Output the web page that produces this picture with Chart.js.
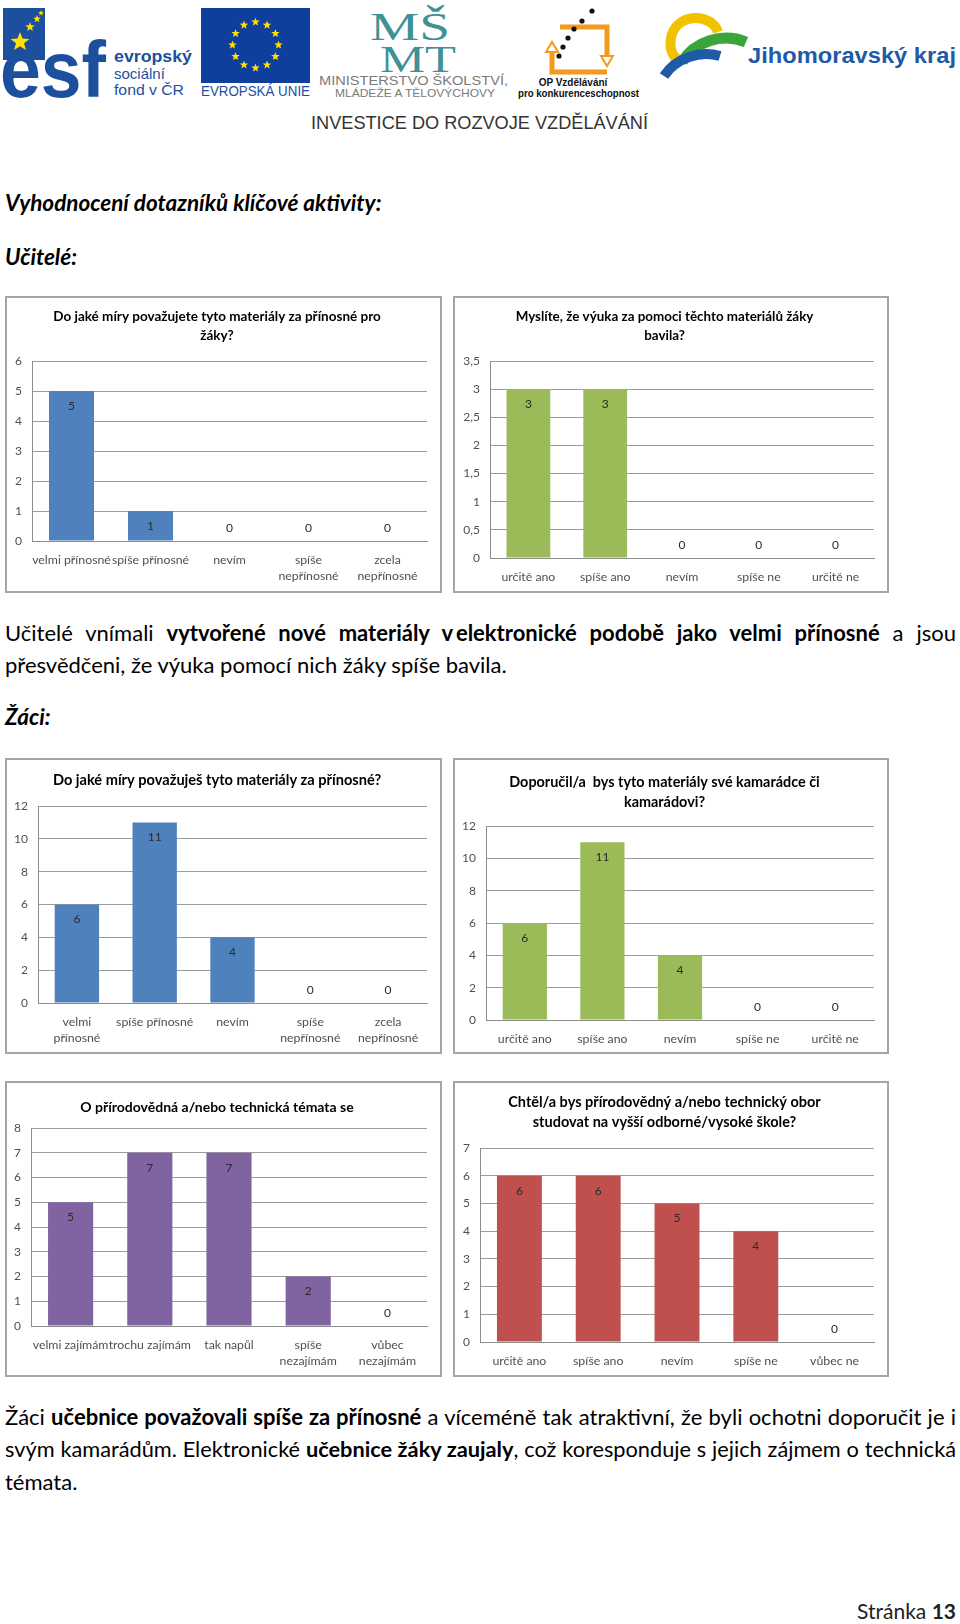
<!DOCTYPE html>
<html lang="cs">
<head>
<meta charset="utf-8">
<title>Vyhodnocení dotazníků klíčové aktivity</title>
<script src="https://cdn.jsdelivr.net/npm/chart.js@4.4.1/dist/chart.umd.min.js"></script>
<style>
  html, body { margin: 0; padding: 0; background: #fff; }
  #page { position: relative; width: 960px; height: 1624px; overflow: hidden; font-family: Lato, "Open Sans", sans-serif; color: #000; }
  .txt { position: absolute; left: 5px; white-space: nowrap; font-size: 22px; line-height: 26px; }
  .just { width: 951px; white-space: normal; text-align: justify; text-align-last: justify; }
  .head { font-weight: bold; font-style: italic; font-size: 22.5px; }
  .box { position: absolute; border: 2px solid #a5a5a5; background: #fff; }
  .box canvas { display: block; }
  #footer { position: absolute; right: 4px; top: 1598px; font-size: 21px; line-height: 26px; color: #222; }
</style>
</head>
<body>
<div id="page">
  <svg id="logos" width="960" height="140" style="position:absolute;left:0;top:0">
    <!-- esf -->
    <rect x="3" y="8" width="42" height="52" fill="#1d4f9f"/>
    <g id="esfStars" fill="#ffe100"></g>
    <text x="0" y="97" font-family="Liberation Sans" font-weight="bold" font-size="80" fill="#1d4f9f" textLength="106" lengthAdjust="spacingAndGlyphs">esf</text>
    <text x="114" y="62" font-family="Liberation Sans" font-weight="bold" font-size="16" fill="#1d4f9f" textLength="78" lengthAdjust="spacingAndGlyphs">evropský</text>
    <text x="114" y="79" font-family="Liberation Sans" font-size="15" fill="#1d4f9f">sociální</text>
    <text x="114" y="95" font-family="Liberation Sans" font-size="15" fill="#1d4f9f" textLength="70" lengthAdjust="spacingAndGlyphs">fond v ČR</text>
    <!-- EU -->
    <rect x="201" y="8" width="109" height="75" fill="#0f3f9c"/>
    <g id="euStars" fill="#ffde00"></g>
    <text x="201" y="96" font-family="Liberation Sans" font-size="14" fill="#1d4f9f" textLength="109" lengthAdjust="spacingAndGlyphs">EVROPSKÁ UNIE</text>
    <!-- MSMT -->
    <text x="370" y="40" font-family="Liberation Serif" font-size="40" fill="#3f9196" textLength="80" lengthAdjust="spacingAndGlyphs">MŠ</text>
    <text x="380" y="72" font-family="Liberation Serif" font-size="38" fill="#3f9196" textLength="76" lengthAdjust="spacingAndGlyphs">MT</text>
    <text x="319" y="85" font-family="Liberation Sans" font-size="13" fill="#7a7a7a" textLength="189" lengthAdjust="spacingAndGlyphs">MINISTERSTVO ŠKOLSTVÍ,</text>
    <text x="335" y="97" font-family="Liberation Sans" font-size="11" fill="#7a7a7a" textLength="160" lengthAdjust="spacingAndGlyphs">MLÁDEŽE A TĚLOVÝCHOVY</text>
    <!-- OP -->
    <path d="M552 48 V72 H607 M560 27 H607 V58" fill="none" stroke="#f39a1e" stroke-width="5"/>
    <path d="M546 52 L552 42 L558 52 Z M601 56 L607 66 L613 56 Z" fill="#fff" stroke="#f39a1e" stroke-width="2"/>
    <g fill="#111"><circle cx="559" cy="56" r="2.6"/><circle cx="563" cy="47" r="2.6"/><circle cx="568" cy="38" r="2.6"/><circle cx="574" cy="29" r="2.6"/><circle cx="582" cy="21" r="2.6"/><circle cx="592" cy="11" r="2.6"/></g>
    <text x="573" y="86" text-anchor="middle" font-family="Liberation Sans" font-weight="bold" font-size="10" fill="#111">OP Vzdělávání</text>
    <text x="518" y="97" font-family="Liberation Sans" font-weight="bold" font-size="10" fill="#111" textLength="121" lengthAdjust="spacingAndGlyphs">pro konkurenceschopnost</text>
    <!-- Jihomoravsky kraj -->
    <path d="M718 32 C712 14 680 12 672 34 C668 46 672 56 678 60" fill="none" stroke="#f2c200" stroke-width="10"/>
    <path d="M682 62 C694 42 722 32 746 42" fill="none" stroke="#3aa63a" stroke-width="11"/>
    <path d="M664 76 C676 58 700 50 720 56" fill="none" stroke="#1f5aa6" stroke-width="10"/>
    <text x="748" y="63" font-family="Liberation Sans" font-weight="bold" font-size="22" fill="#1f5aa6" textLength="208" lengthAdjust="spacingAndGlyphs">Jihomoravský kraj</text>
    <text x="311" y="129" font-family="Liberation Sans" font-size="19" fill="#333" textLength="337" lengthAdjust="spacingAndGlyphs">INVESTICE DO ROZVOJE VZDĚLÁVÁNÍ</text>
  </svg>

  <div class="txt head" style="top:190px">Vyhodnocení dotazníků klíčové aktivity:</div>
  <div class="txt head" style="top:244px">Učitelé:</div>

  <div class="box" id="box1"><canvas id="teacherBenefit"></canvas></div>
  <div class="box" id="box2"><canvas id="teacherFun"></canvas></div>

  <div class="txt just" style="top:620px">Učitelé vnímali <b>vytvořené nové materiály v&#8201;elektronické podobě jako velmi přínosné</b> a jsou</div>
  <div class="txt" style="top:652px">přesvědčeni, že výuka pomocí nich žáky spíše bavila.</div>
  <div class="txt head" style="top:704px">Žáci:</div>

  <div class="box" id="box3"><canvas id="pupilBenefit"></canvas></div>
  <div class="box" id="box4"><canvas id="pupilRecommend"></canvas></div>
  <div class="box" id="box5"><canvas id="pupilInterest"></canvas></div>
  <div class="box" id="box6"><canvas id="pupilStudy"></canvas></div>

  <div class="txt just" style="top:1404px">Žáci <b>učebnice považovali spíše za přínosné</b> a víceméně tak atraktivní, že byli ochotni doporučit je i</div>
  <div class="txt just" style="top:1436px">svým kamarádům. Elektronické <b>učebnice žáky zaujaly</b>, což koresponduje s jejich zájmem o technická</div>
  <div class="txt" style="top:1469px">témata.</div>

  <div id="footer">Stránka <b>13</b></div>
</div>

<script>
// --- data ---
const teacherBenefitCats = ['velmi přínosné', 'spíše přínosné', 'nevím', ['spíše', 'nepřínosné'], ['zcela', 'nepřínosné']];
const teacherBenefitValues = [5, 1, 0, 0, 0];
const teacherBenefitTicks = [0, 1, 2, 3, 4, 5, 6];

const teacherFunCats = ['určitě ano', 'spíše ano', 'nevím', 'spíše ne', 'určitě ne'];
const teacherFunValues = [3, 3, 0, 0, 0];
const teacherFunTicks = [0, 0.5, 1, 1.5, 2, 2.5, 3, 3.5];

const pupilBenefitCats = [['velmi', 'přínosné'], 'spíše přínosné', 'nevím', ['spíše', 'nepřínosné'], ['zcela', 'nepřínosné']];
const pupilBenefitValues = [6, 11, 4, 0, 0];
const pupilBenefitTicks = [0, 2, 4, 6, 8, 10, 12];

const pupilRecommendCats = ['určitě ano', 'spíše ano', 'nevím', 'spíše ne', 'určitě ne'];
const pupilRecommendValues = [6, 11, 4, 0, 0];
const pupilRecommendTicks = [0, 2, 4, 6, 8, 10, 12];

const pupilInterestCats = ['velmi zajímám', 'trochu zajímám', 'tak napůl', ['spíše', 'nezajímám'], ['vůbec', 'nezajímám']];
const pupilInterestValues = [5, 7, 7, 2, 0];
const pupilInterestTicks = [0, 1, 2, 3, 4, 5, 6, 7, 8];

const pupilStudyCats = ['určitě ano', 'spíše ano', 'nevím', 'spíše ne', 'vůbec ne'];
const pupilStudyValues = [6, 6, 5, 4, 0];
const pupilStudyTicks = [0, 1, 2, 3, 4, 5, 6, 7];

// keep justified lines on one line (shrink a little if they would wrap)
document.querySelectorAll('.just').forEach(el => {
    let size = 22;
    while (el.scrollHeight > 30 && size > 16) {
        size -= 0.25;
        el.style.fontSize = size + 'px';
    }
});

// --- logo stars ---
function starPath(cx, cy, r) {
    let d = '';
    for (let i = 0; i < 10; i++) {
        const rr = i % 2 ? r * 0.42 : r;
        const a = -Math.PI / 2 + i * Math.PI / 5;
        d += (i ? 'L' : 'M') + (cx + rr * Math.cos(a)).toFixed(1) + ' ' + (cy + rr * Math.sin(a)).toFixed(1);
    }
    return d + 'Z';
}
const svgNS = 'http://www.w3.org/2000/svg';
const eu = document.getElementById('euStars');
for (let i = 0; i < 12; i++) {
    const a = i * Math.PI / 6;
    const p = document.createElementNS(svgNS, 'path');
    p.setAttribute('d', starPath(255.5 + 23 * Math.cos(a), 45 + 23 * Math.sin(a), 4.5));
    eu.appendChild(p);
}
const esf = document.getElementById('esfStars');
[[20, 42, 10], [30, 27, 5], [37, 19, 4], [41, 13, 3]].forEach(s => {
    const p = document.createElementNS(svgNS, 'path');
    p.setAttribute('d', starPath(s[0], s[1], s[2]));
    esf.appendChild(p);
});

// --- charts ---
Chart.defaults.font.family = 'Lato';

const valueLabels = {
    id: 'valueLabels',
    afterDatasetsDraw(chart) {
        const ctx = chart.ctx;
        const values = chart.data.datasets[0].data;
        ctx.save();
        ctx.font = '12px Lato';
        ctx.fillStyle = '#2b2b2b';
        ctx.textAlign = 'center';
        ctx.textBaseline = 'middle';
        chart.getDatasetMeta(0).data.forEach((bar, i) => {
            const y = values[i] > 0 ? bar.y + 15 : bar.y - 13;
            ctx.fillText(String(values[i]).replace('.', ','), bar.x, y);
        });
        ctx.restore();
    }
};

function drawBarChart(id, boxId, geo, titleLines, cats, values, ticks, color) {
    const box = document.getElementById(boxId);
    const canvas = document.getElementById(id);
    const [bx, by, bw, bh] = geo.box;
    box.style.left = bx + 'px';
    box.style.top = by + 'px';
    const cx = bx + 2, cy = by + 2, cw = bw - 4, ch = bh - 4;
    canvas.width = cw;
    canvas.height = ch;

    const [pl, pt, pr, pb] = geo.plot;
    const lineH = geo.titleSize * 1.38;
    const padTop = geo.titleY - cy - lineH / 2;
    const padBottom = pt - cy - padTop - titleLines.length * lineH;
    const yWidth = pl - cx;
    const xHeight = cy + ch - pb;

    new Chart(canvas, {
        type: 'bar',
        data: {
            labels: cats,
            datasets: [{
                data: values,
                backgroundColor: color,
                barPercentage: 0.57,
                categoryPercentage: 1
            }]
        },
        options: {
            responsive: false,
            animation: false,
            devicePixelRatio: 1,
            layout: { padding: { top: 0, left: 0, bottom: 0, right: cx + cw - pr } },
            plugins: {
                legend: { display: false },
                tooltip: { enabled: false },
                title: {
                    display: true,
                    text: titleLines,
                    color: '#000',
                    font: { size: geo.titleSize, weight: 'bold', lineHeight: 1.38 },
                    padding: { top: padTop, bottom: padBottom }
                }
            },
            scales: {
                x: {
                    grid: { display: false },
                    border: { display: true, color: '#8c8c8c' },
                    ticks: {
                        color: '#505050',
                        font: { size: 12.3, lineHeight: 1.3 },
                        padding: 3,
                        maxRotation: 0,
                        minRotation: 0,
                        autoSkip: false
                    },
                    afterFit: s => { s.height = xHeight; s.paddingLeft = 0; s.paddingRight = 0; }
                },
                y: {
                    min: ticks[0],
                    max: ticks[ticks.length - 1],
                    afterBuildTicks: s => { s.ticks = ticks.map(v => ({ value: v })); },
                    grid: { color: '#9c9c9c', drawTicks: false },
                    border: { display: true, color: '#8c8c8c' },
                    ticks: {
                        color: '#505050',
                        font: { size: 12 },
                        padding: 10,
                        callback: v => String(v).replace('.', ',')
                    },
                    afterFit: s => { s.width = yWidth; s.paddingTop = 0; s.paddingBottom = 0; }
                }
            }
        },
        plugins: [valueLabels]
    });
}

drawBarChart('teacherBenefit', 'box1',
    { box: [5, 296, 437, 297], plot: [32, 361, 427, 541], titleY: 317, titleSize: 13.5 },
    ['Do jaké míry považujete tyto materiály za přínosné pro', 'žáky?'],
    teacherBenefitCats, teacherBenefitValues, teacherBenefitTicks, '#4f81bd');

drawBarChart('teacherFun', 'box2',
    { box: [453, 296, 436, 297], plot: [490, 361, 874, 558], titleY: 317, titleSize: 13.4 },
    ['Myslíte, že výuka za pomoci těchto materiálů žáky', 'bavila?'],
    teacherFunCats, teacherFunValues, teacherFunTicks, '#9bbb59');

drawBarChart('pupilBenefit', 'box3',
    { box: [5, 758, 437, 296], plot: [38, 806, 427, 1003], titleY: 780, titleSize: 14.6 },
    ['Do jaké míry považuješ tyto materiály za přínosné?'],
    pupilBenefitCats, pupilBenefitValues, pupilBenefitTicks, '#4f81bd');

drawBarChart('pupilRecommend', 'box4',
    { box: [453, 758, 436, 296], plot: [486, 826, 874, 1020], titleY: 782, titleSize: 14.4 },
    ['Doporučil/a  bys tyto materiály své kamarádce či', 'kamarádovi?'],
    pupilRecommendCats, pupilRecommendValues, pupilRecommendTicks, '#9bbb59');

drawBarChart('pupilInterest', 'box5',
    { box: [5, 1081, 437, 296], plot: [31, 1128, 427, 1326], titleY: 1107, titleSize: 14 },
    ['O přírodovědná a/nebo technická témata se'],
    pupilInterestCats, pupilInterestValues, pupilInterestTicks, '#8064a2');

drawBarChart('pupilStudy', 'box6',
    { box: [453, 1081, 436, 296], plot: [480, 1148, 874, 1342], titleY: 1102, titleSize: 14.5 },
    ['Chtěl/a bys přírodovědný a/nebo technický obor', 'studovat na vyšší odborné/vysoké škole?'],
    pupilStudyCats, pupilStudyValues, pupilStudyTicks, '#c0504d');
</script>
</body>
</html>
